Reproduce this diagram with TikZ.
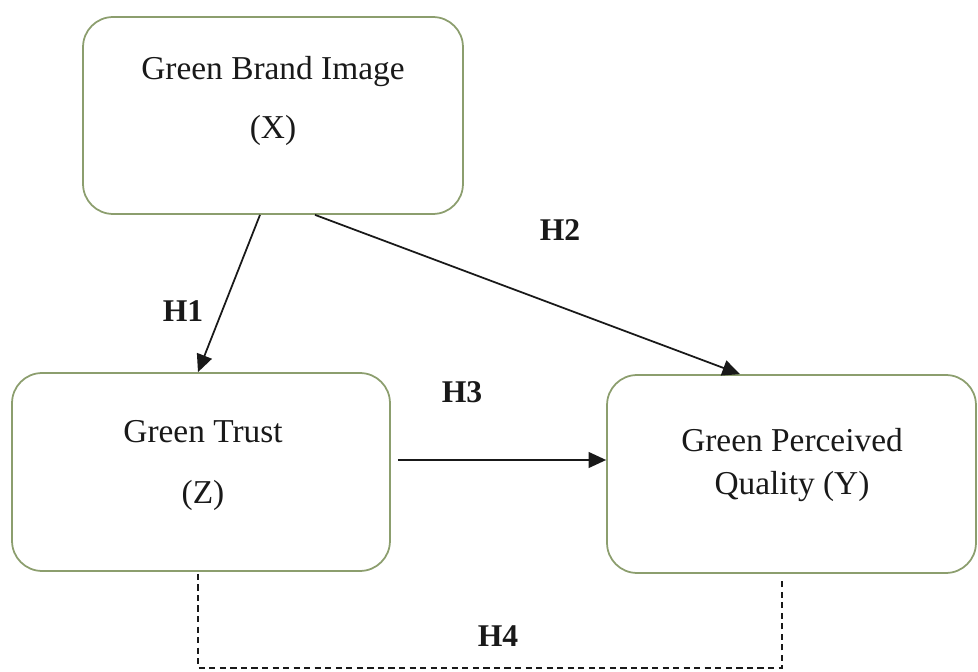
\documentclass[tikz,border=0pt]{standalone}
\usepackage{fontspec}
\setmainfont{Liberation Serif}
\usetikzlibrary{arrows.meta,calc}
\definecolor{boxline}{RGB}{140,158,110}
\definecolor{ink}{RGB}{25,25,25}
\tikzset{
  box/.style={draw=boxline, line width=1pt, rounded corners=0.6cm, fill=white, inner sep=0pt},
  boxtext/.style={font=\fontsize{19}{19}\selectfont, text=ink, align=center, inner sep=0pt},
  hlabel/.style={font=\fontsize{18}{18}\selectfont\bfseries, text=ink, inner sep=0pt},
  link/.style={draw=ink, line width=1pt, -{Triangle[length=10pt,width=9pt]}},
  dlink/.style={draw=ink, line width=0.9pt, dash pattern=on 3.5pt off 2.5pt}
}
\begin{document}
\begin{tikzpicture}[x=0.02cm,y=-0.02cm]
\useasboundingbox (0,0) rectangle (978,672);
% boxes
\node[box, minimum width=7.6cm, minimum height=3.94cm] (X) at (273,115.5) {};
\node[box, minimum width=7.56cm, minimum height=3.96cm] (Z) at (201,472) {};
\node[box, minimum width=7.38cm, minimum height=3.96cm] (Y) at (791.5,474) {};
% texts
\node[boxtext] (xt1) at (273,72) {Green Brand Image};
\node[boxtext] (xt2) at (273,130) {(X)};
\node[boxtext] (zt1) at (203,432) {Green Trust};
\node[boxtext] (zt2) at (203,495) {(Z)};
\node[boxtext] (yt1) at (792,440) {Green Perceived};
\node[boxtext] (yt2) at (792,487) {Quality (Y)};
% connectors
\draw[link] (X.south -| 260,0) -- (Z.north -| 198,0);
\draw[link] (X.south -| 315,0) -- (Y.north -| 740,0);
\draw[link] ($(Z.east |- 0,460)+(7,0)$) -- (Y.west |- 0,460);
\draw[dlink] ($(Z.south -| 198,0)+(0,2)$) -- (198,668) -| ($(Y.south -| 782,0)+(0,4)$);
% labels
\node[hlabel] (h1) at (183,311) {H1};
\node[hlabel] (h2) at (560,230) {H2};
\node[hlabel] (h3) at (462,392) {H3};
\node[hlabel] (h4) at (498,636) {H4};
\end{tikzpicture}
\end{document}
